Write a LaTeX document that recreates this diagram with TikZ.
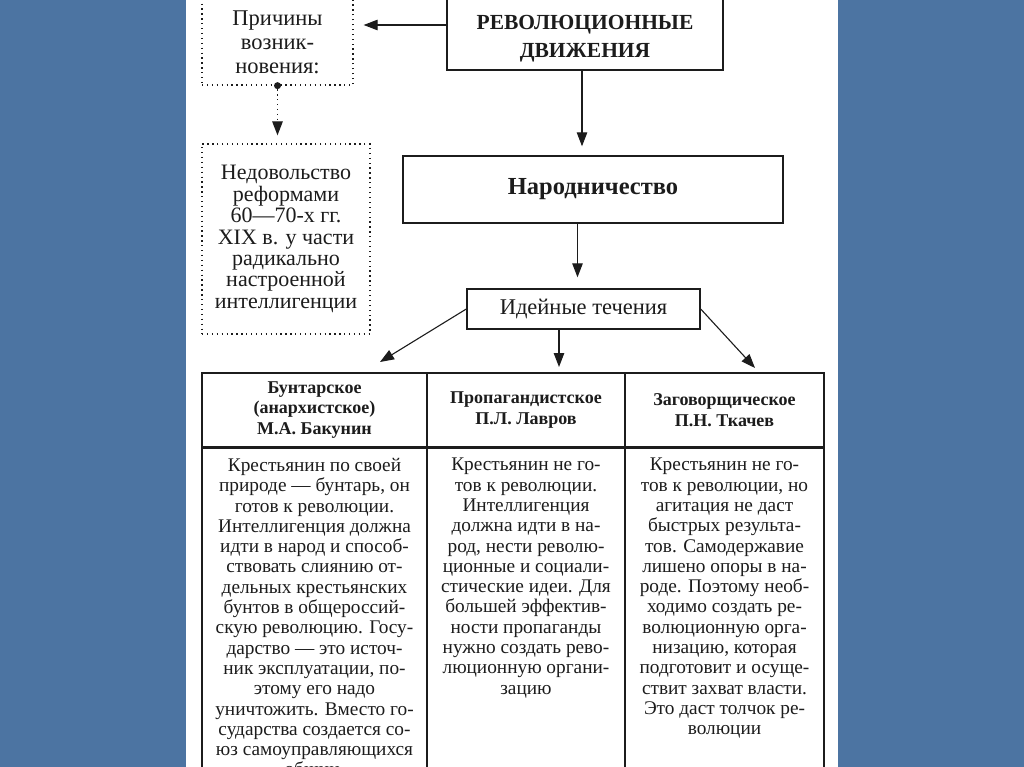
\documentclass[tikz,border=0pt]{standalone}
\usepackage{fontspec}
\setmainfont{Liberation Serif}
\usetikzlibrary{arrows.meta}
\definecolor{bgblue}{RGB}{76,116,162}
\definecolor{ink}{RGB}{28,28,28}
\newcommand{\bodyfont}{\fontsize{19.3}{20.3}\selectfont}
\newcommand{\headfont}{\fontsize{18}{20.5}\selectfont\bfseries}

\begin{document}
\begin{tikzpicture}[x=1pt,y=-1pt,
    bnode/.style={draw=ink,line width=1.4pt,inner sep=0pt},
    dnode/.style={draw=ink,line width=1.3pt,dash pattern=on 1.3pt off 3.6pt,inner sep=0pt,text=ink,align=center},
    tnode/.style={text=ink,align=center,inner sep=0pt},
    cell/.style={draw=ink,line width=1.3pt,inner sep=0pt,text=ink,align=center},
    onode/.style={fill=ink,circle,inner sep=0pt,minimum size=7pt},
    arr/.style={draw=ink,line width=1.1pt,-{Triangle[length=14pt,width=10.5pt]}},
    dotarr/.style={draw=ink,line width=1.3pt,dash pattern=on 1.3pt off 3.6pt,-{Triangle[length=14pt,width=10.5pt]}}]
    \useasboundingbox (0,0) rectangle (1024,767);
    \fill[bgblue] (0,0) rectangle (1024,767);
    \fill[white] (186,0) rectangle (838,767);

    \node[bnode,minimum width=276pt,minimum height=90pt] (rev) at (585,25) {};
    \node[tnode,font=\fontsize{21.5}{28}\selectfont\bfseries] (revt) at (585,39) {РЕВОЛЮЦИОННЫЕ\\ДВИЖЕНИЯ};
    \node[dnode,minimum width=151pt,minimum height=120pt] (prich) at (277.5,25) {};
    \node[tnode,font=\fontsize{22.5}{24}\selectfont] (pricht) at (277.5,42) {Причины\\возник-\\новения:};
    \node[onode] (pdot) at (prich.south) {};
    \node[dnode,minimum width=168pt,minimum height=190pt,font=\fontsize{22}{21.4}\selectfont] (nedov) at (286,239)
        {Недовольство\\реформами\\60---70-х гг.\\XIX в. у части\\радикально\\настроенной\\интеллигенции};
    \node[bnode,minimum width=380pt,minimum height=67pt,font=\fontsize{24.5}{26}\selectfont\bfseries,text=ink] (naro) at (593,189.5) {Народничество};
    \node[bnode,minimum width=233pt,minimum height=40pt,font=\fontsize{22.5}{24}\selectfont,text=ink] (ide) at (583.5,309) {Идейные течения};

    \node[cell,minimum width=225pt,minimum height=74pt,font=\headfont] (h1) at (314.5,410) {Бунтарское\\(анархистское)\\М.А. Бакунин};
    \node[cell,minimum width=198pt,minimum height=74pt,font=\headfont] (h2) at (526,410) {Пропагандистское\\П.Л. Лавров};
    \node[cell,minimum width=199pt,minimum height=74pt,font=\headfont] (h3) at (724.5,410) {Заговорщическое\\П.Н. Ткачев};
    \node[cell,minimum width=225pt,minimum height=380pt,anchor=north] (b1) at (h1.south) {};
    \node[cell,minimum width=198pt,minimum height=380pt,anchor=north] (b2) at (h2.south) {};
    \node[cell,minimum width=199pt,minimum height=380pt,anchor=north] (b3) at (h3.south) {};

    \node[tnode,anchor=north,font=\bodyfont] (b1t) at (314.5,458) {Крестьянин по своей\\природе --- бунтарь, он\\готов к революции.\\Интеллигенция должна\\идти в народ и способ-\\ствовать слиянию от-\\дельных крестьянских\\бунтов в общероссий-\\скую революцию. Госу-\\дарство --- это источ-\\ник эксплуатации, по-\\этому его надо\\уничтожить. Вместо го-\\сударства создается со-\\юз самоуправляющихся\\общин.};
    \node[tnode,anchor=north,font=\bodyfont] (b2t) at (526,458) {Крестьянин не го-\\тов к революции.\\Интеллигенция\\должна идти в на-\\род, нести револю-\\ционные и социали-\\стические идеи. Для\\большей эффектив-\\ности пропаганды\\нужно создать рево-\\люционную органи-\\зацию};
    \node[tnode,anchor=north,font=\bodyfont] (b3t) at (724.5,458) {Крестьянин не го-\\тов к революции, но\\агитация не даст\\быстрых результа-\\тов. Самодержавие\\лишено опоры в на-\\роде. Поэтому необ-\\ходимо создать ре-\\волюционную орга-\\низацию, которая\\подготовит и осуще-\\ствит захват власти.\\Это даст толчок ре-\\волюции};

    \coordinate (t1) at (380,362);
    \coordinate (t2) at (559,367);
    \coordinate (t3) at (755,368);

    \draw[arr,shorten >=10pt] (rev.west) -- (prich.east);
    \draw[dotarr,shorten >=8pt] (pdot) -- (pdot |- nedov.north);
    \draw[arr,shorten >=9pt] ([xshift=-3pt]rev.south) -- ([xshift=-3pt]rev.south |- naro.north);
    \draw[arr,shorten >=11pt] ([xshift=-6pt]ide.north |- naro.south) -- ([xshift=-6pt]ide.north);
    \draw[arr] (ide.west) -- (t1);
    \draw[arr] (ide.south -| t2) -- (t2);
    \draw[arr] (ide.east) -- (t3);
\end{tikzpicture}
\end{document}
